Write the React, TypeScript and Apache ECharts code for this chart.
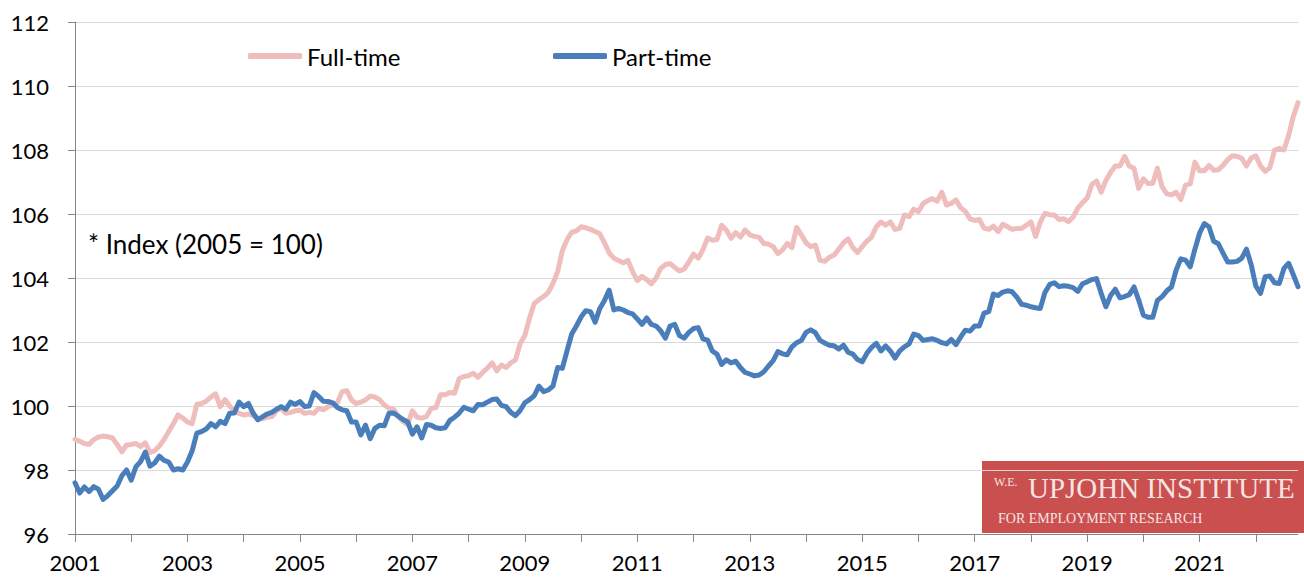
import React, { useEffect, useRef } from "react";
import * as echarts from "echarts";

const startYear = 2001;
const monthCount = 262;

const fullTime: number[] = [
  // 2001
  98.96, 98.9, 98.83, 98.8, 98.95, 99.03, 99.06, 99.04, 99.0, 98.8, 98.57, 98.78,
  // 2002
  98.8, 98.83, 98.73, 98.85, 98.55, 98.6, 98.75, 98.95, 99.2, 99.45, 99.72, 99.62,
  // 2003
  99.5, 99.45, 100.05, 100.08, 100.15, 100.28, 100.38, 99.98, 100.2, 100.0, 99.85, 99.77,
  // 2004
  99.72, 99.75, 99.7, 99.62, 99.6, 99.65, 99.67, 99.85, 99.93, 99.77, 99.8, 99.85,
  // 2005
  99.87, 99.77, 99.8, 99.77, 99.93, 99.88, 99.98, 100.03, 100.1, 100.45, 100.48, 100.19,
  // 2006
  100.08, 100.12, 100.19, 100.31, 100.28, 100.2, 100.03, 99.93, 99.9, 99.67, 99.51, 99.42,
  // 2007
  99.85, 99.65, 99.62, 99.67, 99.92, 99.95, 100.35, 100.35, 100.42, 100.4, 100.86, 100.92,
  // 2008
  100.95, 101.02, 100.9, 101.05, 101.18, 101.35, 101.1, 101.28, 101.2, 101.35, 101.44, 101.95,
  // 2009
  102.2, 102.75, 103.2, 103.32, 103.42, 103.55, 103.83, 104.2, 104.85, 105.2, 105.43, 105.47,
  // 2010
  105.6, 105.57, 105.52, 105.45, 105.38, 105.1, 104.78, 104.62, 104.55, 104.48, 104.55, 104.2,
  // 2011
  103.92, 104.05, 103.95, 103.82, 104.0, 104.3, 104.42, 104.45, 104.33, 104.22, 104.28, 104.5,
  // 2012
  104.75, 104.62, 104.88, 105.25, 105.18, 105.2, 105.65, 105.5, 105.24, 105.42, 105.28, 105.5,
  // 2013
  105.35, 105.3, 105.27, 105.08, 105.06, 104.98, 104.76, 104.88, 105.08, 104.95, 105.58, 105.35,
  // 2014
  105.1, 104.98, 105.03, 104.55, 104.52, 104.65, 104.72, 104.9, 105.1, 105.22, 104.95, 104.8,
  // 2015
  104.98, 105.15, 105.28, 105.6, 105.75, 105.65, 105.75, 105.52, 105.55, 105.97, 105.92, 106.15,
  // 2016
  106.08, 106.33, 106.42, 106.48, 106.4, 106.68, 106.28, 106.33, 106.44, 106.2, 106.08, 105.85,
  // 2017
  105.8, 105.83, 105.56, 105.52, 105.62, 105.45, 105.68, 105.6, 105.52, 105.55, 105.55, 105.65,
  // 2018
  105.75, 105.3, 105.75, 106.02, 105.98, 105.97, 105.83, 105.85, 105.76, 105.9, 106.18, 106.35,
  // 2019
  106.5, 106.92, 107.03, 106.68, 107.05, 107.3, 107.5, 107.5, 107.8, 107.5, 107.43, 106.8,
  // 2020
  107.1, 106.95, 106.96, 107.43, 106.85, 106.63, 106.6, 106.68, 106.45, 106.9, 106.94, 107.62,
  // 2021
  107.35, 107.35, 107.52, 107.37, 107.38, 107.52, 107.7, 107.82, 107.8, 107.74, 107.5, 107.75,
  // 2022
  107.82, 107.5, 107.33, 107.45, 108.0, 108.05, 108.0, 108.45, 109.05, 109.48,
];

const partTime: number[] = [
  // 2001
  97.6, 97.28, 97.47, 97.33, 97.48, 97.4, 97.08, 97.2, 97.35, 97.5, 97.82, 98.0,
  // 2002
  97.68, 98.1, 98.26, 98.56, 98.12, 98.22, 98.43, 98.3, 98.25, 98.0, 98.04, 98.0,
  // 2003
  98.25, 98.6, 99.15, 99.2, 99.28, 99.45, 99.35, 99.52, 99.45, 99.77, 99.78, 100.12,
  // 2004
  99.98, 100.08, 99.78, 99.57, 99.66, 99.75, 99.8, 99.9, 99.98, 99.9, 100.12, 100.05,
  // 2005
  100.14, 99.98, 100.0, 100.42, 100.3, 100.15, 100.14, 100.1, 99.95, 99.88, 99.85, 99.5,
  // 2006
  99.5, 99.1, 99.4, 98.98, 99.3, 99.4, 99.38, 99.77, 99.78, 99.68, 99.58, 99.5,
  // 2007
  99.12, 99.35, 99.0, 99.42, 99.4, 99.32, 99.3, 99.32, 99.55, 99.65, 99.78, 99.96,
  // 2008
  99.9, 99.85, 100.05, 100.04, 100.12, 100.2, 100.22, 100.02, 99.98, 99.8, 99.7, 99.86,
  // 2009
  100.1, 100.2, 100.32, 100.62, 100.45, 100.5, 100.62, 101.2, 101.18, 101.72, 102.25, 102.5,
  // 2010
  102.78, 102.98, 102.95, 102.62, 103.05, 103.3, 103.62, 103.0, 103.05, 103.0, 102.92, 102.88,
  // 2011
  102.72, 102.55, 102.75, 102.55, 102.5, 102.35, 102.12, 102.5, 102.55, 102.2, 102.12, 102.3,
  // 2012
  102.42, 102.45, 102.1, 102.06, 101.72, 101.62, 101.3, 101.44, 101.35, 101.4, 101.2, 101.05,
  // 2013
  101.0, 100.94, 100.97, 101.07, 101.25, 101.42, 101.7, 101.63, 101.6, 101.85, 101.98, 102.05,
  // 2014
  102.3, 102.38, 102.29, 102.05, 101.97, 101.9, 101.88, 101.78, 101.9, 101.68, 101.62, 101.45,
  // 2015
  101.38, 101.65, 101.83, 101.96, 101.72, 101.88, 101.72, 101.5, 101.72, 101.85, 101.94, 102.25,
  // 2016
  102.2, 102.05, 102.08, 102.1, 102.05, 101.98, 101.94, 102.08, 101.92, 102.15, 102.37, 102.34,
  // 2017
  102.5, 102.5, 102.9, 102.95, 103.5, 103.45, 103.56, 103.6, 103.57, 103.4, 103.18, 103.15,
  // 2018
  103.1, 103.07, 103.05, 103.55, 103.8, 103.85, 103.73, 103.76, 103.74, 103.7, 103.58, 103.82,
  // 2019
  103.88, 103.95, 103.98, 103.52, 103.1, 103.45, 103.65, 103.38, 103.42, 103.48, 103.72, 103.31,
  // 2020
  102.84, 102.77, 102.77, 103.3, 103.42, 103.6, 103.72, 104.25, 104.6, 104.56, 104.35, 104.9,
  // 2021
  105.4, 105.7, 105.6, 105.15, 105.07, 104.78, 104.5, 104.5, 104.52, 104.62, 104.9, 104.42,
  // 2022
  103.75, 103.52, 104.04, 104.06, 103.85, 103.83, 104.3, 104.46, 104.1, 103.73,
];

const months: string[] = [];
for (let i = 0; i < monthCount; i++) {
  const y = startYear + Math.floor(i / 12);
  const m = (i % 12) + 1;
  months.push(`${y}-${m < 10 ? "0" + m : m}`);
}

const yMin = 96;
const yMax = 112;
const yStep = 2;

const FONT = "Lato, 'Noto Sans', sans-serif";
const SERIF = "'Liberation Serif', 'DejaVu Serif', serif";
const PINK = "#eebdbc";
const BLUE = "#4a7ebb";

export default function App() {
  const ref = useRef<HTMLDivElement>(null);

  useEffect(() => {
    if (!ref.current) return;
    const chart = echarts.init(ref.current, null, { renderer: "svg" });
    chart.setOption({
      animation: false,
      backgroundColor: "#ffffff",
      textStyle: { fontFamily: FONT },
      grid: { left: 75, right: 6, top: 22, bottom: 43, containLabel: false },
      legend: [
        {
          data: ["Full-time"],
          left: 248,
          top: 44,
          padding: 0,
          itemWidth: 54,
          itemHeight: 6,
          icon: "roundRect",
          textStyle: { fontSize: 24, color: "#000", fontFamily: FONT },
        },
        {
          data: ["Part-time"],
          left: 553,
          top: 44,
          padding: 0,
          itemWidth: 54,
          itemHeight: 6,
          icon: "roundRect",
          textStyle: { fontSize: 24, color: "#000", fontFamily: FONT },
        },
      ],
      xAxis: {
        type: "category",
        data: months,
        boundaryGap: false,
        axisLine: { show: true, lineStyle: { color: "#868686", width: 1 } },
        axisTick: {
          show: true,
          interval: (idx: number) => idx % 12 === 0,
          length: 8,
          lineStyle: { color: "#868686" },
        },
        axisLabel: {
          interval: (idx: number) => idx % 24 === 0,
          formatter: (v: string) => v.slice(0, 4),
          fontSize: 22,
          lineHeight: 20,
          color: "#000",
          margin: 18,
          fontFamily: FONT,
        },
        splitLine: { show: false },
      },
      yAxis: {
        type: "value",
        min: yMin,
        max: yMax,
        interval: yStep,
        axisLine: { show: true, lineStyle: { color: "#868686", width: 1 } },
        axisTick: { show: true, length: 7, lineStyle: { color: "#868686" } },
        axisLabel: {
          fontSize: 22,
          color: "#000",
          margin: 26,
          fontFamily: FONT,
        },
        splitLine: { show: true, lineStyle: { color: "#d9d9d9", width: 1 } },
      },
      series: [
        {
          name: "Full-time",
          type: "line",
          data: fullTime,
          showSymbol: false,
          color: PINK,
          lineStyle: { width: 5, color: PINK, cap: "round", join: "round" },
        },
        {
          name: "Part-time",
          type: "line",
          data: partTime,
          showSymbol: false,
          color: BLUE,
          lineStyle: { width: 5, color: BLUE, cap: "round", join: "round" },
        },
      ],
      graphic: [
        {
          type: "text",
          left: 88,
          top: 231,
          style: {
            text: "* Index (2005 = 100)",
            fontSize: 26,
            fill: "#000",
            fontFamily: FONT,
          },
        },
        {
          type: "group",
          left: 982,
          top: 461,
          children: [
            {
              type: "rect",
              shape: { x: 0, y: 0, width: 322, height: 72 },
              style: { fill: "#c9504f" },
            },
            {
              type: "text",
              x: 12,
              y: 15,
              style: {
                text: "W.E.",
                fontSize: 12,
                fill: "#f6e4e3",
                fontFamily: SERIF,
              },
            },
            {
              type: "text",
              x: 46,
              y: 12,
              style: {
                text: "UPJOHN INSTITUTE",
                fontSize: 29,
                fill: "#f6e4e3",
                fontFamily: SERIF,
              },
            },
            {
              type: "text",
              x: 16,
              y: 50,
              style: {
                text: "FOR EMPLOYMENT RESEARCH",
                fontSize: 14,
                fill: "#f6e4e3",
                fontFamily: SERIF,
              },
            },
          ],
        },
      ],
    });
    return () => chart.dispose();
  }, []);

  return (
    <div
      ref={ref}
      style={{ position: "fixed", left: 0, top: 0, width: 1304, height: 577 }}
    />
  );
}
